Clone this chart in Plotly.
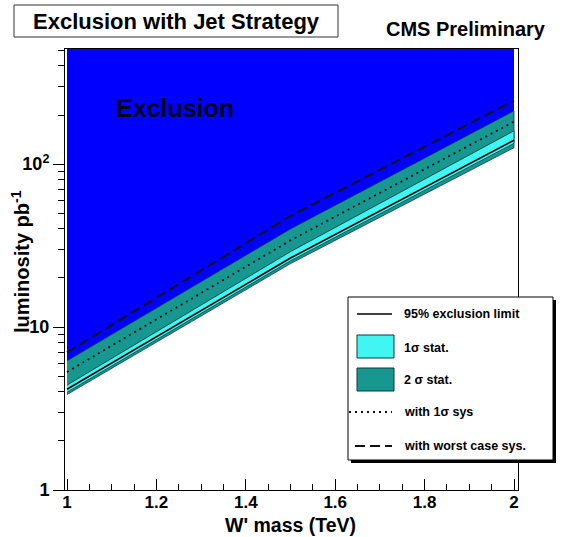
import plotly.graph_objects as go

# W' mass points (TeV) and luminosity needed for exclusion (pb^-1)
mass = [1.0, 1.5, 2.0]
limit = [4.15, 26.5, 140.0]          # 95% exclusion limit
stat1_lo = [3.98, 25.5, 134.0]       # 1 sigma stat. band
stat1_hi = [4.40, 29.0, 160.0]
stat2_lo = [3.85, 24.5, 126.0]       # 2 sigma stat. band
stat2_hi = [6.20, 40.0, 212.0]
sys1 = [5.30, 34.0, 182.0]           # with 1 sigma systematics
sys_worst = [7.00, 48.0, 245.0]      # with worst case systematics

x_tick_vals = [1.0, 1.2, 1.4, 1.6, 1.8, 2.0]
x_tick_text = ["1", "1.2", "1.4", "1.6", "1.8", "2"]
y_tick_vals = [1, 10, 100]
y_tick_text = ["1", "10", "10<sup>2</sup>"]

Y_TOP = 10 ** 2.706
FONT = "Liberation Sans, Arial, Helvetica, sans-serif"
BLUE = "#0000ff"
TEAL = "#17978f"
CYAN = "#3ff6f2"

# frame geometry in pixels
FIG_W, FIG_H = 566, 537
L, R, T, B = 65, 518, 49, 490
W, H = R - L, B - T


def px(x):
    return (x - L) / W


def py(y):
    return (B - y) / H


fig = go.Figure()

# excluded region: everything above the limit
fig.add_trace(go.Scatter(
    x=mass + mass[::-1], y=limit + [Y_TOP] * len(mass),
    fill="toself", fillcolor=BLUE, line=dict(width=0), mode="lines",
    hoverinfo="skip", showlegend=False))

# 2 sigma band
fig.add_trace(go.Scatter(
    x=mass + mass[::-1], y=stat2_lo + stat2_hi[::-1],
    fill="toself", fillcolor=TEAL, line=dict(color="#0b3b38", width=0.8),
    mode="lines", hoverinfo="skip", showlegend=False))

# 1 sigma band
fig.add_trace(go.Scatter(
    x=mass + mass[::-1], y=stat1_lo + stat1_hi[::-1],
    fill="toself", fillcolor=CYAN, line=dict(color="#0b3b38", width=0.8),
    mode="lines", hoverinfo="skip", showlegend=False))

fig.add_trace(go.Scatter(x=mass, y=limit, mode="lines",
                         line=dict(color="black", width=1.6), showlegend=False))
fig.add_trace(go.Scatter(x=mass, y=sys1, mode="lines",
                         line=dict(color="#111111", width=1.8, dash="2px,4px"),
                         showlegend=False))
fig.add_trace(go.Scatter(x=mass, y=sys_worst, mode="lines",
                         line=dict(color="#111111", width=2.0, dash="10px,5px"),
                         showlegend=False))

shapes = []
annotations = []

# title box
shapes.append(dict(type="rect", xref="paper", yref="paper",
                   x0=px(14), x1=px(338), y0=py(37), y1=py(5),
                   line=dict(color="#333333", width=1), fillcolor="white"))
annotations.append(dict(xref="paper", yref="paper", x=px(176), y=py(21),
                        text="Exclusion with Jet Strategy", showarrow=False,
                        font=dict(family=FONT, size=22, color="black", weight="bold"),
                        xanchor="center", yanchor="middle"))
annotations.append(dict(xref="paper", yref="paper", x=px(466), y=py(29),
                        text="CMS Preliminary", showarrow=False,
                        font=dict(family=FONT, size=20, color="black", weight="bold"),
                        xanchor="center", yanchor="middle"))

# label inside the excluded region
annotations.append(dict(xref="paper", yref="paper", x=px(175), y=py(108),
                        text="Exclusion", showarrow=False,
                        font=dict(family=FONT, size=25, color="#000022", weight="bold"),
                        xanchor="center", yanchor="middle"))

# axis titles
annotations.append(dict(xref="paper", yref="paper", x=px(290), y=py(525),
                        text="W' mass (TeV)", showarrow=False,
                        font=dict(family=FONT, size=19.5, color="black", weight="bold"),
                        xanchor="center", yanchor="middle"))
annotations.append(dict(xref="paper", yref="paper", x=px(20), y=py(262),
                        text="luminosity pb<sup>-1</sup>", showarrow=False, textangle=-90,
                        font=dict(family=FONT, size=20, color="black", weight="bold"),
                        xanchor="center", yanchor="middle"))

# legend box with shadow
shapes.append(dict(type="rect", xref="paper", yref="paper",
                   x0=px(351), x1=px(556), y0=py(463), y1=py(300),
                   line=dict(width=0), fillcolor="black"))
shapes.append(dict(type="rect", xref="paper", yref="paper",
                   x0=px(348), x1=px(553), y0=py(460), y1=py(297),
                   line=dict(color="black", width=1), fillcolor="white"))

LEG_FONT = dict(family=FONT, size=12.5, color="black", weight="bold")
TXT_X = 402

shapes.append(dict(type="line", xref="paper", yref="paper",
                   x0=px(357), x1=px(392), y0=py(314), y1=py(314),
                   line=dict(color="black", width=1.6)))
shapes.append(dict(type="rect", xref="paper", yref="paper",
                   x0=px(357), x1=px(394), y0=py(358), y1=py(335),
                   line=dict(color="#0b3b38", width=1), fillcolor=CYAN))
shapes.append(dict(type="rect", xref="paper", yref="paper",
                   x0=px(357), x1=px(394), y0=py(391), y1=py(368),
                   line=dict(color="#0b3b38", width=1), fillcolor=TEAL))
shapes.append(dict(type="line", xref="paper", yref="paper",
                   x0=px(349), x1=px(392), y0=py(412), y1=py(412),
                   line=dict(color="#111111", width=1.8, dash="2px,4px")))
shapes.append(dict(type="line", xref="paper", yref="paper",
                   x0=px(355), x1=px(392), y0=py(446), y1=py(446),
                   line=dict(color="#111111", width=2.0, dash="10px,5px")))

for label, yy in [("95% exclusion limit", 314), ("1\u03c3 stat.", 348),
                  ("2 \u03c3 stat.", 380), ("with 1\u03c3 sys", 412),
                  ("with worst case sys.", 446)]:
    annotations.append(dict(xref="paper", yref="paper", x=px(TXT_X), y=py(yy),
                            text=label, showarrow=False, font=LEG_FONT,
                            xanchor="left", yanchor="middle"))

minor_x = [round(1.0 + 0.05 * i, 2) for i in range(21)]
minor_x = [v for v in minor_x if v not in x_tick_vals]
minor_y = [m * d for d in (1, 10) for m in range(2, 10)] + [200, 300, 400, 500]

fig.update_layout(
    width=FIG_W, height=FIG_H,
    margin=dict(l=L, r=FIG_W - R, t=T, b=FIG_H - B),
    paper_bgcolor="white", plot_bgcolor="white",
    shapes=shapes, annotations=annotations,
    showlegend=False,
    xaxis=dict(range=[1 - 2 / 447, 2 + 4 / 447], showgrid=False, zeroline=False,
               tickmode="array", tickvals=x_tick_vals, ticktext=x_tick_text,
               ticks="inside", ticklen=11, tickwidth=1, tickcolor="black",
               ticklabelstandoff=-3,
               minor=dict(tickvals=minor_x, ticks="inside", ticklen=6,
                          tickcolor="black", showgrid=False),
               showline=True, linecolor="black", linewidth=1, mirror=True,
               tickfont=dict(family=FONT, size=17, color="black", weight="bold")),
    yaxis=dict(type="log", range=[0, 2.706], showgrid=False, zeroline=False,
               tickmode="array", tickvals=y_tick_vals, ticktext=y_tick_text,
               ticks="outside", ticklen=11, tickwidth=1, tickcolor="black",
               minor=dict(tickvals=minor_y, ticks="outside", ticklen=6,
                          tickcolor="black", showgrid=False),
               showline=True, linecolor="black", linewidth=1, mirror=True,
               tickfont=dict(family=FONT, size=18, color="black", weight="bold")),
)

fig.write_html("out.html")
